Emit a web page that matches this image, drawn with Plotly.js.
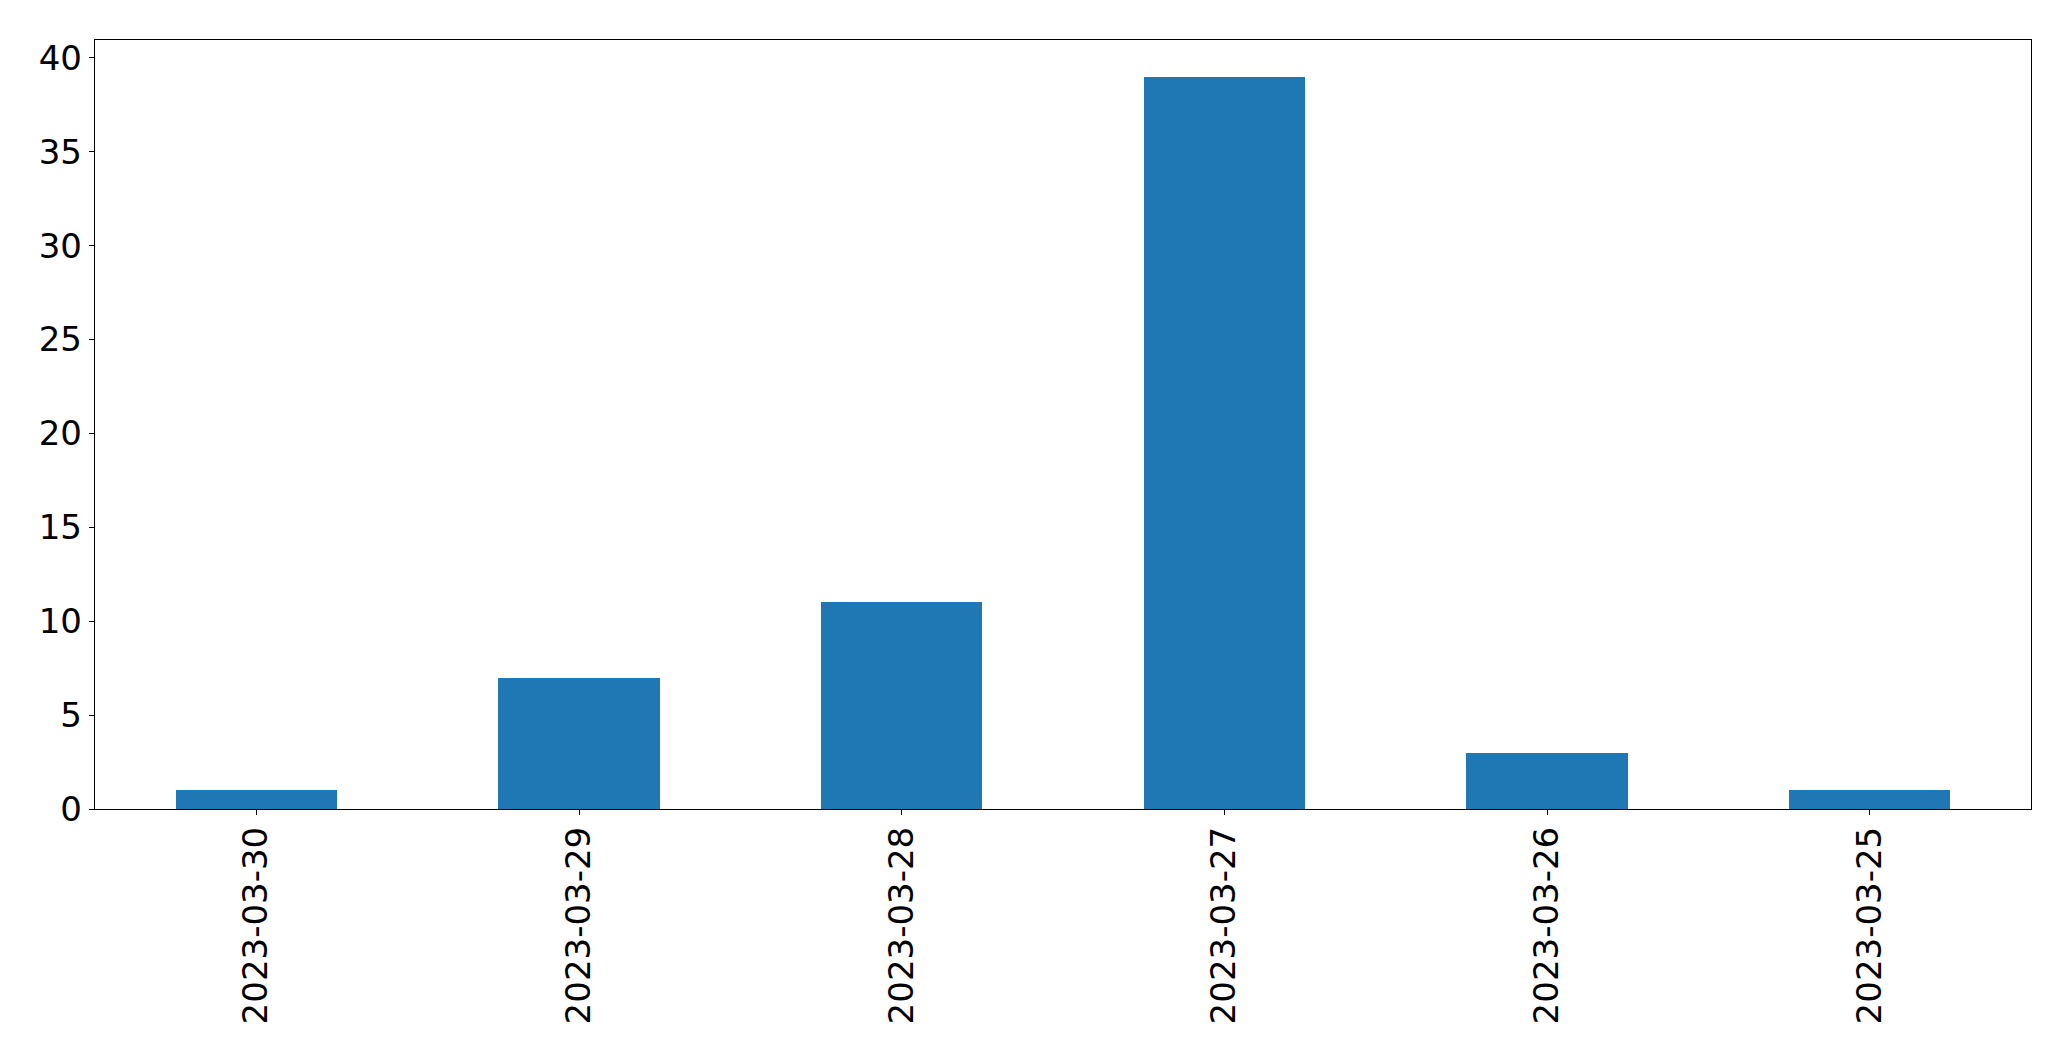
<!DOCTYPE html>
<html>
<head>
<meta charset="utf-8">
<script src="https://cdn.plot.ly/plotly-3.0.1.min.js"></script>
<style>html,body{margin:0;padding:0;background:#fff;}#chart{width:2071px;height:1061px;}</style>
</head>
<body>
<div id="chart"></div>
<script>
const categories = ["2023-03-30", "2023-03-29", "2023-03-28", "2023-03-27", "2023-03-26", "2023-03-25"];
const counts = [1, 7, 11, 39, 3, 1];
const yTicks = [0, 5, 10, 15, 20, 25, 30, 35, 40];

const trace = {
  type: "bar",
  x: categories,
  y: counts,
  width: 0.5,
  marker: {color: "#1f77b4", line: {width: 0}},
  hoverinfo: "x+y"
};

const font = {family: "DejaVu Sans, sans-serif", size: 34, color: "#000"};

const layout = {
  width: 2071,
  height: 1061,
  margin: {l: 94.5, r: 40, t: 39.5, b: 252, pad: 0},
  paper_bgcolor: "#fff",
  plot_bgcolor: "#fff",
  showlegend: false,
  bargap: 0,
  font: font,
  xaxis: {
    type: "category",
    range: [-0.5, 5.5],
    tickangle: -90,
    ticks: "outside",
    ticklen: 5,
    tickwidth: 1,
    tickcolor: "#000",
    showline: true,
    linecolor: "#000",
    linewidth: 1.2,
    mirror: true,
    showgrid: false,
    zeroline: false,
    tickfont: font,
    ticklabelstandoff: -2
  },
  yaxis: {
    range: [0, 40.95],
    tickmode: "array",
    tickvals: yTicks,
    ticktext: yTicks.map(String),
    ticks: "outside",
    ticklen: 5,
    tickwidth: 1,
    tickcolor: "#000",
    showline: true,
    linecolor: "#000",
    linewidth: 1.2,
    mirror: true,
    showgrid: false,
    zeroline: false,
    tickfont: font,
    ticklabelstandoff: 0
  }
};

Plotly.newPlot("chart", [trace], layout, {displayModeBar: false, staticPlot: true});
</script>
</body>
</html>
